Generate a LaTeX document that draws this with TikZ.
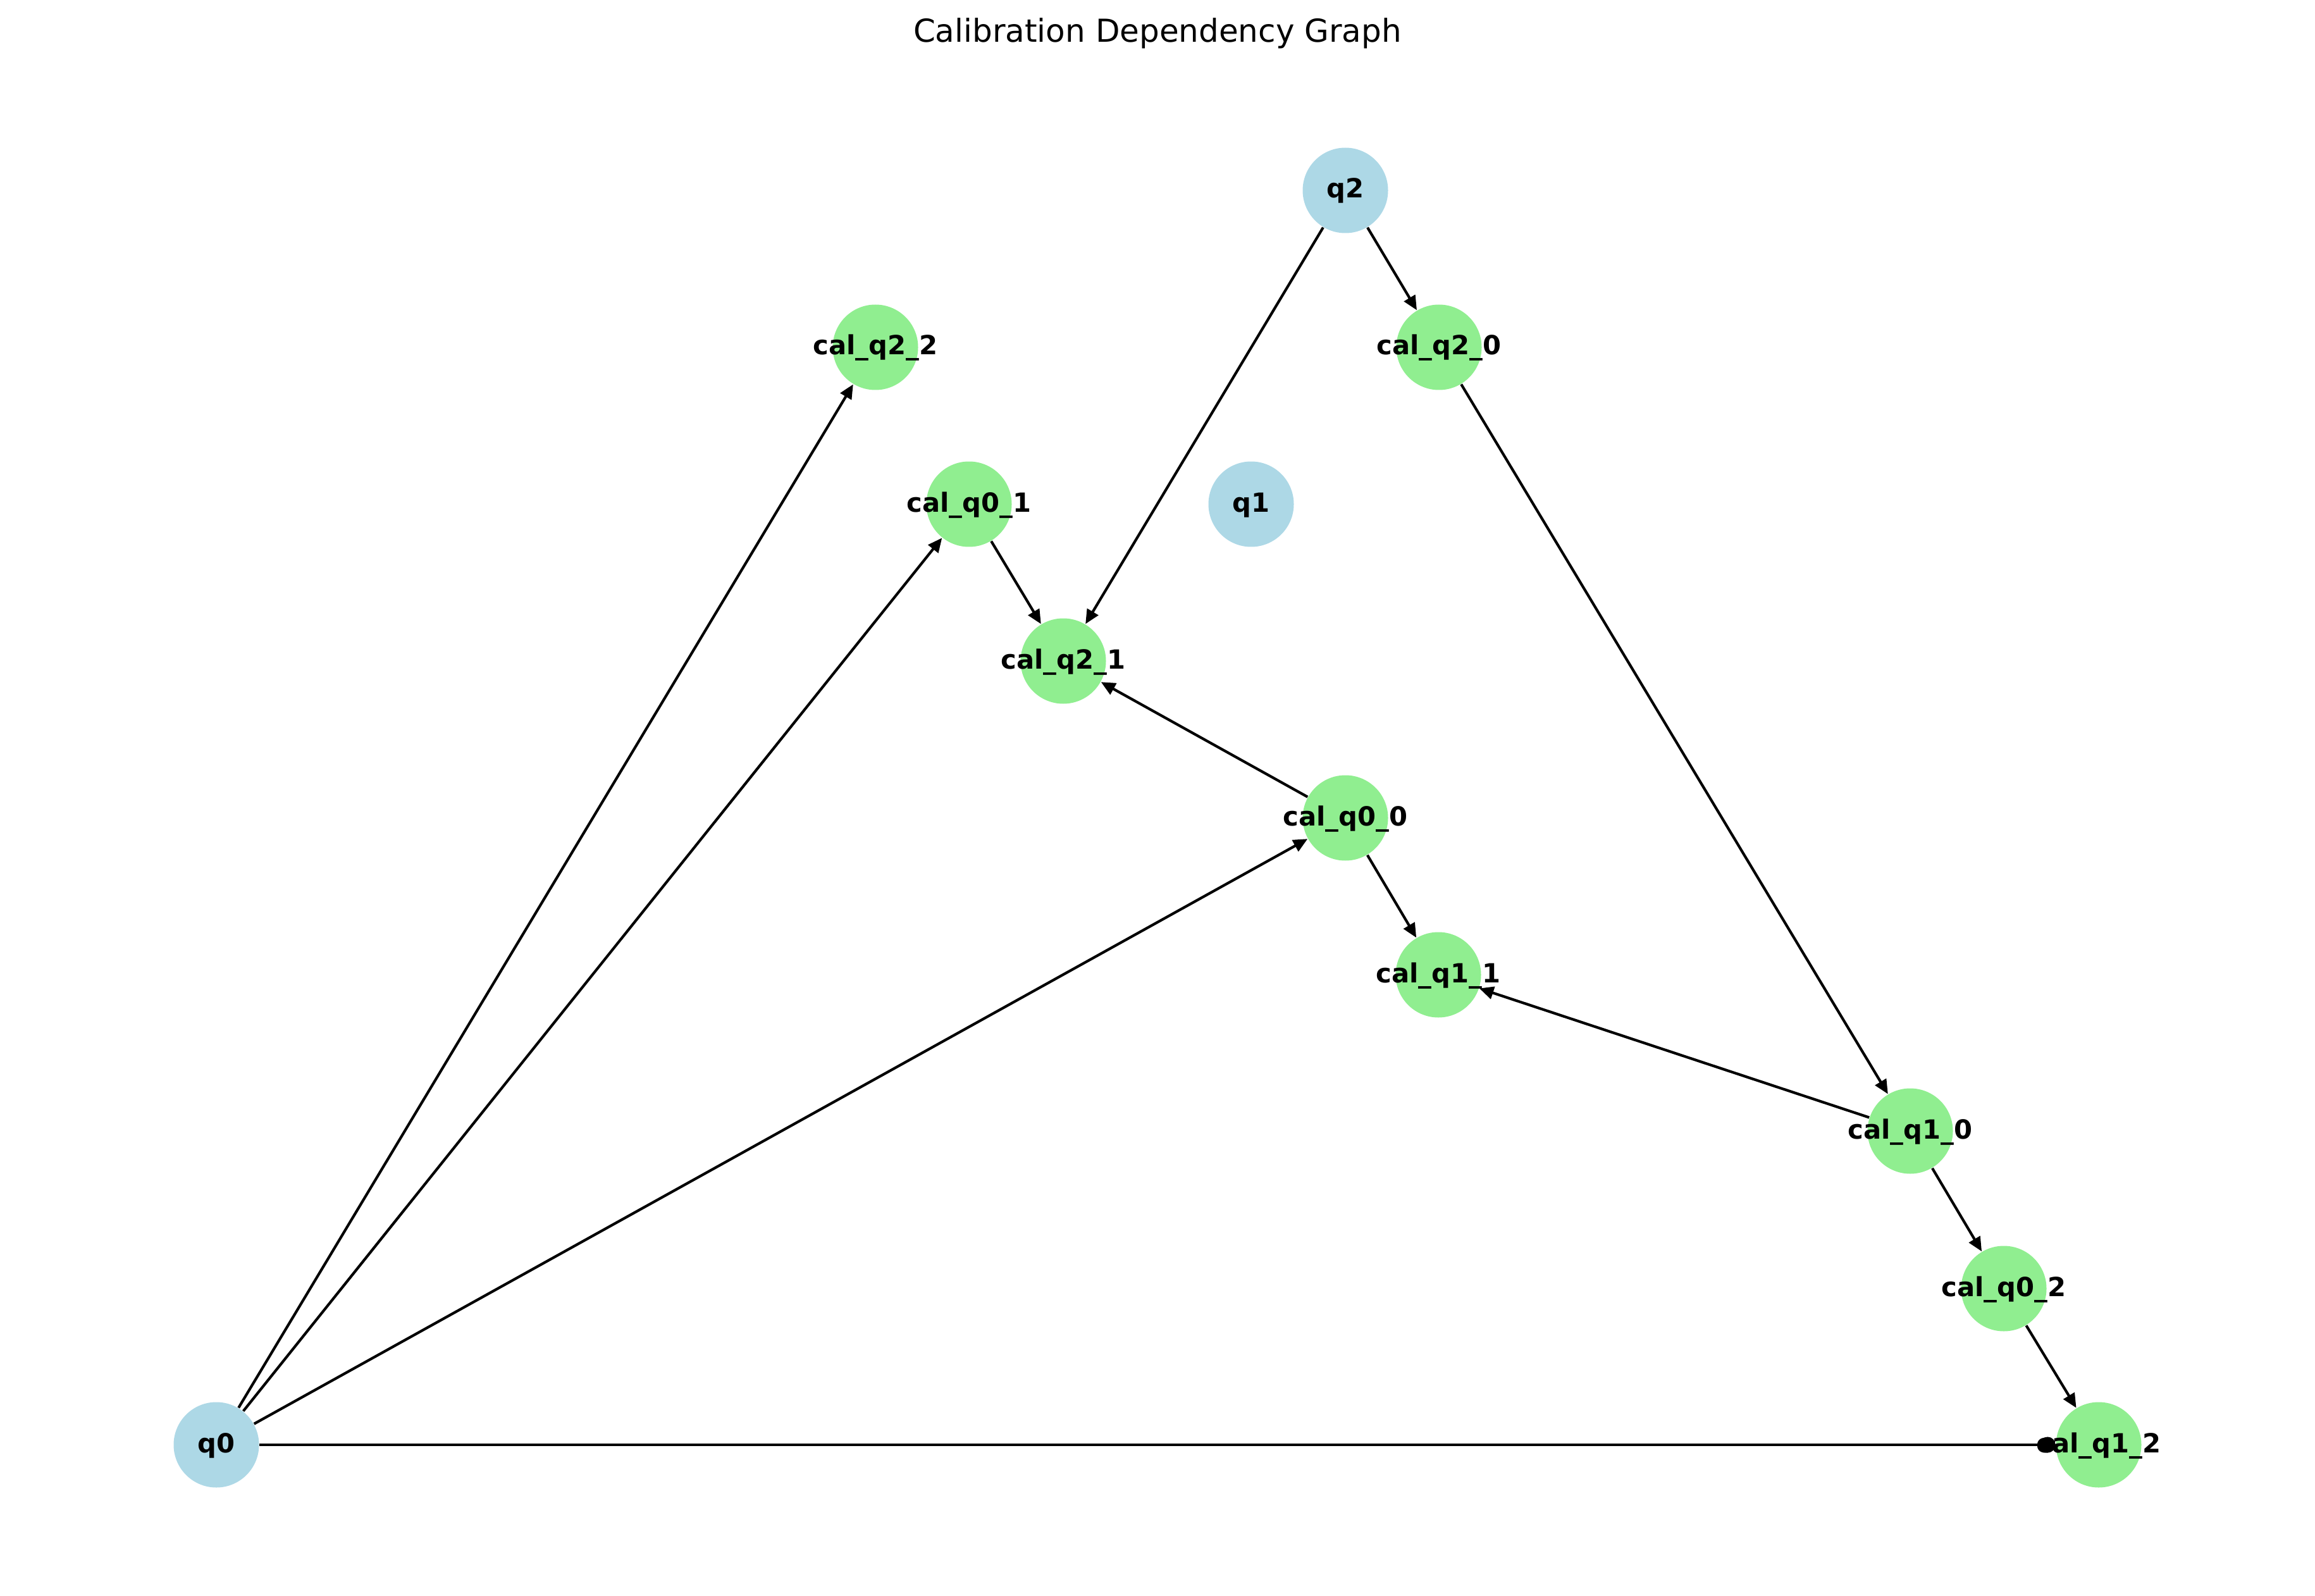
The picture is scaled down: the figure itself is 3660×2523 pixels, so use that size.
\documentclass[tikz,border=0pt]{standalone}
\usepackage{fontspec}
\setmainfont{DejaVu Sans}
\usetikzlibrary{arrows.meta}
\definecolor{qblue}{HTML}{ADD8E6}
\definecolor{cgreen}{HTML}{90EE90}
\tikzset{
  qnode/.style={circle,fill=qblue,draw=none,minimum size=32.4pt,inner sep=0pt},
  cnode/.style={circle,fill=cgreen,draw=none,minimum size=32.4pt,inner sep=0pt},
  lbl/.style={anchor=base,font=\fontsize{10}{12}\selectfont\bfseries,inner sep=0pt},
  edge/.style={line width=1pt,-{Triangle[length=5.4pt,width=4.8pt]}},
  dotedge/.style={line width=1pt,-{Circle[length=6pt]}}
}
\begin{document}
\begin{tikzpicture}[x=0.24pt,y=-0.24pt]
\useasboundingbox (0,0) rectangle (3660,2523);
\node[anchor=base,font=\fontsize{12}{14}\selectfont,inner sep=0pt] (title) at (1830,67) {Calibration Dependency Graph};
% nodes
\node[qnode] (q2) at (2127,301) {};
\node[cnode] (c22) at (1384,549) {};
\node[cnode] (c20) at (2275,549) {};
\node[cnode] (c01) at (1532,797) {};
\node[qnode] (q1) at (1978,797) {};
\node[cnode] (c21) at (1681,1045) {};
\node[cnode] (c00) at (2127,1293) {};
\node[cnode] (c11) at (2274,1541) {};
\node[cnode] (c10) at (3020,1788) {};
\node[cnode] (c02) at (3168,2037) {};
\node[cnode] (c12) at (3318,2284) {};
\node[qnode] (q0) at (342,2284) {};
% edges
\draw[edge] (q0) -- (c22);
\draw[edge] (q0) -- (c01);
\draw[edge] (q0) -- (c00);
\draw[dotedge] (q0) -- (c12);
\draw[edge] (q2) -- (c20);
\draw[edge] (q2) -- (c21);
\draw[edge] (c01) -- (c21);
\draw[edge] (c00) -- (c21);
\draw[edge] (c00) -- (c11);
\draw[edge] (c20) -- (c10);
\draw[edge] (c10) -- (c11);
\draw[edge] (c10) -- (c02);
\draw[edge] (c02) -- (c12);
% labels
\path (q2) ++(0,12) node[lbl] (lq2) {q2};
\path (c22) ++(0,12) node[lbl] (lc22) {cal\_q2\_2};
\path (c20) ++(0,12) node[lbl] (lc20) {cal\_q2\_0};
\path (c01) ++(0,12) node[lbl] (lc01) {cal\_q0\_1};
\path (q1) ++(0,12) node[lbl] (lq1) {q1};
\path (c21) ++(0,12) node[lbl] (lc21) {cal\_q2\_1};
\path (c00) ++(0,12) node[lbl] (lc00) {cal\_q0\_0};
\path (c11) ++(0,12) node[lbl] (lc11) {cal\_q1\_1};
\path (c10) ++(0,12) node[lbl] (lc10) {cal\_q1\_0};
\path (c02) ++(0,12) node[lbl] (lc02) {cal\_q0\_2};
\path (c12) ++(0,12) node[lbl] (lc12) {cal\_q1\_2};
\path (q0) ++(0,12) node[lbl] (lq0) {q0};
\end{tikzpicture}
\end{document}
